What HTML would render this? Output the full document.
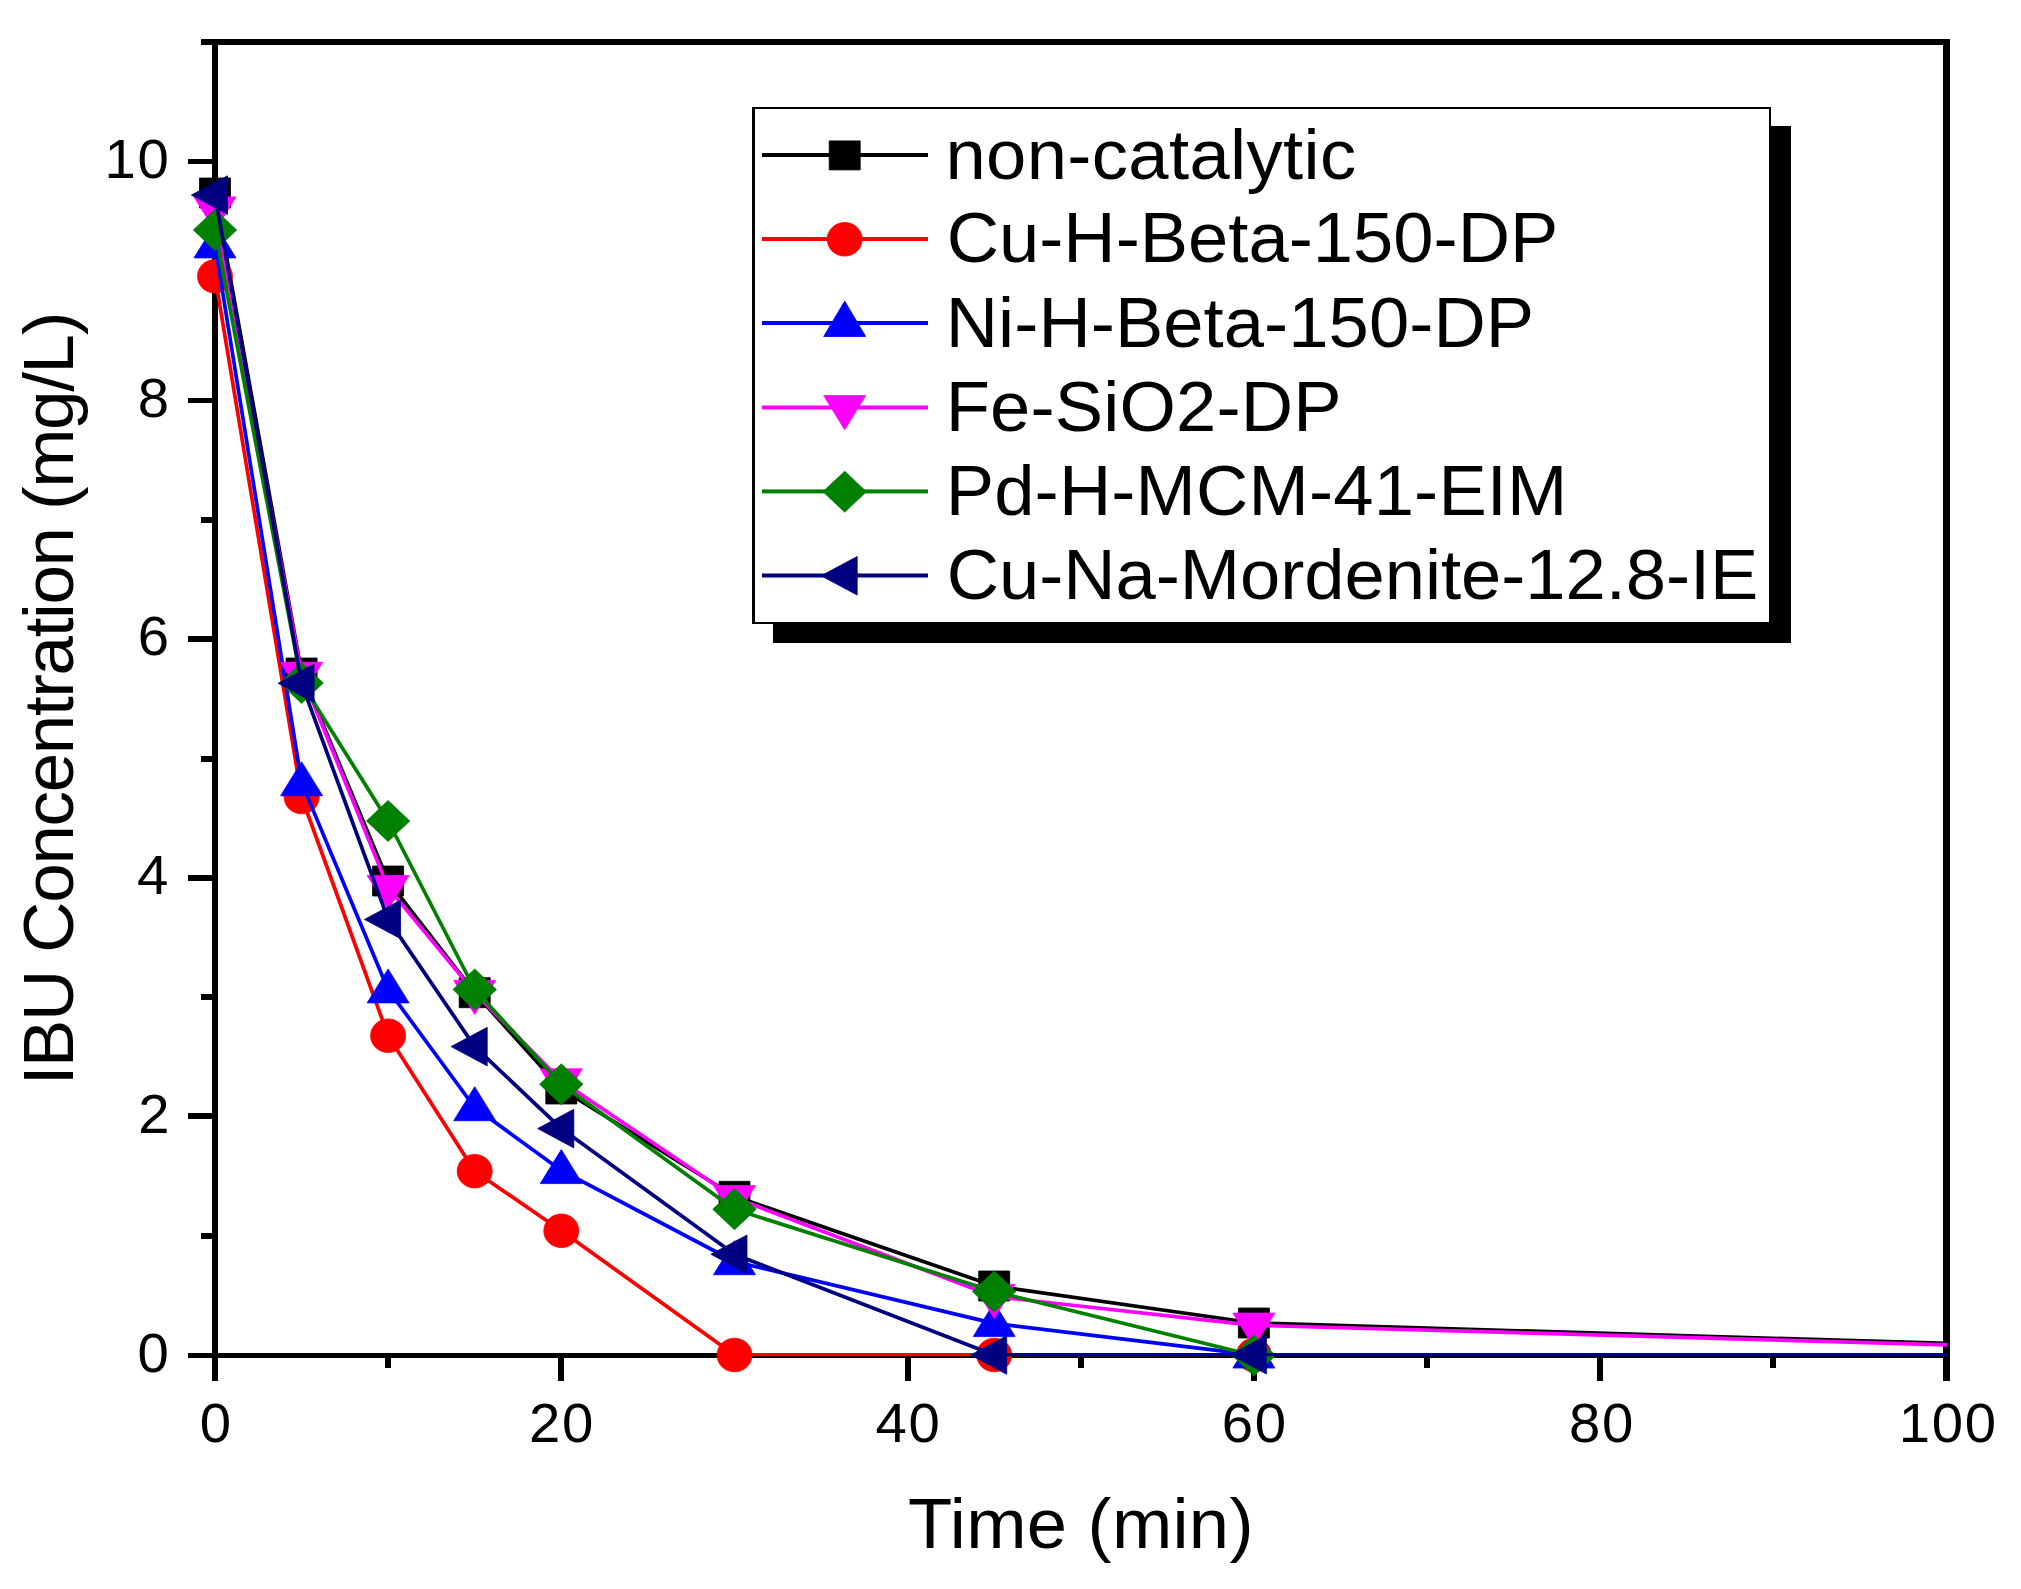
<!DOCTYPE html>
<html><head><meta charset="utf-8"><title>IBU Concentration vs Time</title>
<style>
html,body{margin:0;padding:0;background:#fff;}
body{width:2021px;height:1589px;overflow:hidden;}
svg{display:block;}
text{font-family:"Liberation Sans",sans-serif;fill:#000;}
</style></head><body>
<svg width="2021" height="1589" viewBox="0 0 2021 1589">
<rect x="0" y="0" width="2021" height="1589" fill="#ffffff"/>
<g fill="#000" shape-rendering="crispEdges">
<rect x="201" y="39" width="1749" height="6"/>
<rect x="212" y="39" width="6" height="1342"/>
<rect x="1943" y="39" width="7" height="1342"/>
<rect x="188" y="1353" width="1762" height="5"/>
<rect x="188" y="1353" width="26" height="5"/>
<rect x="201" y="1233" width="13" height="6"/>
<rect x="188" y="1113" width="26" height="6"/>
<rect x="201" y="994" width="13" height="6"/>
<rect x="188" y="875" width="26" height="6"/>
<rect x="201" y="756" width="13" height="6"/>
<rect x="188" y="636" width="26" height="6"/>
<rect x="201" y="517" width="13" height="6"/>
<rect x="188" y="398" width="26" height="5"/>
<rect x="201" y="278" width="13" height="6"/>
<rect x="188" y="159" width="26" height="5"/>
<rect x="385" y="1355" width="6" height="13"/>
<rect x="558" y="1355" width="6" height="26"/>
<rect x="731" y="1355" width="6" height="13"/>
<rect x="905" y="1355" width="6" height="26"/>
<rect x="1078" y="1355" width="6" height="13"/>
<rect x="1251" y="1355" width="6" height="26"/>
<rect x="1424" y="1355" width="6" height="13"/>
<rect x="1597" y="1355" width="6" height="26"/>
<rect x="1770" y="1355" width="6" height="13"/>
</g>
<g fill="#000000" stroke="#000000" stroke-width="0.8" stroke-linejoin="round">
<polyline fill="none" stroke-width="3.7" stroke-linejoin="round" points="215.0,193.0 301.6,673.0 388.1,881.0 474.7,992.7 561.3,1089.0 734.5,1196.3 994.2,1286.0 1253.9,1323.0 1947.0,1343.4"/>
<rect x="199.5" y="178.0" width="31" height="30"/>
<rect x="286.1" y="658.0" width="31" height="30"/>
<rect x="372.6" y="866.0" width="31" height="30"/>
<rect x="459.2" y="977.7" width="31" height="30"/>
<rect x="545.8" y="1074.0" width="31" height="30"/>
<rect x="719.0" y="1181.3" width="31" height="30"/>
<rect x="978.7" y="1271.0" width="31" height="30"/>
<rect x="1238.4" y="1308.0" width="31" height="30"/>
</g>
<g fill="#ff0000" stroke="#ff0000" stroke-width="0.8" stroke-linejoin="round">
<polyline fill="none" stroke-width="3.7" stroke-linejoin="round" points="215.0,276.3 301.6,797.0 388.1,1035.7 474.7,1171.2 561.3,1230.8 734.5,1355.0"/>
<line x1="734.5" y1="1354.6" x2="994.2" y2="1354.6" stroke-width="3.2"/>
<line x1="994.2" y1="1354.6" x2="1253.9" y2="1354.6" stroke-width="3.2"/>
<ellipse cx="215.0" cy="276.3" rx="17.5" ry="16.8"/>
<ellipse cx="301.6" cy="797.0" rx="17.5" ry="16.8"/>
<ellipse cx="388.1" cy="1035.7" rx="17.5" ry="16.8"/>
<ellipse cx="474.7" cy="1171.2" rx="17.5" ry="16.8"/>
<ellipse cx="561.3" cy="1230.8" rx="17.5" ry="16.8"/>
<ellipse cx="734.5" cy="1355.0" rx="17.5" ry="16.8"/>
<ellipse cx="994.2" cy="1355.0" rx="17.5" ry="16.8"/>
<ellipse cx="1253.9" cy="1355.0" rx="17.5" ry="16.8"/>
</g>
<g fill="#0000ff" stroke="#0000ff" stroke-width="0.8" stroke-linejoin="round">
<polyline fill="none" stroke-width="3.7" stroke-linejoin="round" points="215.0,244.7 301.6,782.6 388.1,989.7 474.7,1107.5 561.3,1170.4 734.5,1261.5 994.2,1323.4 1253.9,1354.8"/>
<polygon points="215.0,223.9 236.0,257.9 194.0,257.9"/>
<polygon points="301.6,761.8 322.6,795.8 280.6,795.8"/>
<polygon points="388.1,968.9 409.1,1002.9 367.1,1002.9"/>
<polygon points="474.7,1086.7 495.7,1120.7 453.7,1120.7"/>
<polygon points="561.3,1149.6 582.3,1183.6 540.3,1183.6"/>
<polygon points="734.5,1240.7 755.5,1274.7 713.5,1274.7"/>
<polygon points="994.2,1302.6 1015.2,1336.6 973.2,1336.6"/>
<polygon points="1253.9,1334.0 1274.9,1368.0 1232.9,1368.0"/>
</g>
<g fill="#ff00ff" stroke="#ff00ff" stroke-width="0.8" stroke-linejoin="round">
<polyline fill="none" stroke-width="3.7" stroke-linejoin="round" points="215.0,209.1 301.6,674.4 388.1,887.6 474.7,992.6 561.3,1081.0 734.5,1197.8 994.2,1296.6 1253.9,1325.3 1947.0,1344.8"/>
<polygon points="215.0,231.1 236.0,196.9 194.0,196.9"/>
<polygon points="301.6,696.4 322.6,662.2 280.6,662.2"/>
<polygon points="388.1,909.6 409.1,875.4 367.1,875.4"/>
<polygon points="474.7,1014.6 495.7,980.4 453.7,980.4"/>
<polygon points="561.3,1103.0 582.3,1068.8 540.3,1068.8"/>
<polygon points="734.5,1219.8 755.5,1185.6 713.5,1185.6"/>
<polygon points="994.2,1318.6 1015.2,1284.4 973.2,1284.4"/>
<polygon points="1253.9,1347.3 1274.9,1313.1 1232.9,1313.1"/>
</g>
<g fill="#008000" stroke="#008000" stroke-width="0.8" stroke-linejoin="round">
<polyline fill="none" stroke-width="3.7" stroke-linejoin="round" points="215.0,230.0 301.6,683.0 388.1,821.0 474.7,989.5 561.3,1084.3 734.5,1209.3 994.2,1291.5 1253.9,1355.5"/>
<polygon points="215.0,209.5 236.7,230.0 215.0,250.5 193.3,230.0"/>
<polygon points="301.6,662.5 323.3,683.0 301.6,703.5 279.9,683.0"/>
<polygon points="388.1,800.5 409.8,821.0 388.1,841.5 366.4,821.0"/>
<polygon points="474.7,969.0 496.4,989.5 474.7,1010.0 453.0,989.5"/>
<polygon points="561.3,1063.8 583.0,1084.3 561.3,1104.8 539.6,1084.3"/>
<polygon points="734.5,1188.8 756.2,1209.3 734.5,1229.8 712.8,1209.3"/>
<polygon points="994.2,1271.0 1015.9,1291.5 994.2,1312.0 972.5,1291.5"/>
<polygon points="1253.9,1335.0 1275.6,1355.5 1253.9,1376.0 1232.2,1355.5"/>
</g>
<g fill="#000080" stroke="#000080" stroke-width="0.8" stroke-linejoin="round">
<polyline fill="none" stroke-width="3.7" stroke-linejoin="round" points="215.0,195.1 301.6,683.3 388.1,919.4 474.7,1046.6 561.3,1128.6 734.5,1254.3 994.2,1355.0"/>
<line x1="994.2" y1="1354.6" x2="1253.9" y2="1354.6" stroke-width="3.2"/>
<line x1="1253.9" y1="1354.6" x2="1947.0" y2="1354.6" stroke-width="3.2"/>
<polygon points="191.4,195.1 227.5,175.8 227.5,214.4"/>
<polygon points="278.0,683.3 314.1,664.0 314.1,702.6"/>
<polygon points="364.5,919.4 400.6,900.1 400.6,938.7"/>
<polygon points="451.1,1046.6 487.2,1027.3 487.2,1065.9"/>
<polygon points="537.7,1128.6 573.8,1109.3 573.8,1147.9"/>
<polygon points="710.9,1254.3 747.0,1235.0 747.0,1273.6"/>
<polygon points="970.6,1355.0 1006.7,1335.7 1006.7,1374.3"/>
<polygon points="1230.3,1354.8 1266.4,1335.5 1266.4,1374.0"/>
</g>
<g fill="#000" font-family="'Liberation Sans', sans-serif">
<text transform="translate(199.86,1441.60) scale(1.0200,1)" font-size="55.20" letter-spacing="1.700">0</text>
<text transform="translate(529.03,1441.60) scale(1.0200,1)" font-size="55.20" letter-spacing="1.700">20</text>
<text transform="translate(875.41,1441.60) scale(1.0200,1)" font-size="55.20" letter-spacing="1.700">40</text>
<text transform="translate(1221.83,1441.60) scale(1.0200,1)" font-size="55.20" letter-spacing="1.700">60</text>
<text transform="translate(1569.04,1441.60) scale(1.0200,1)" font-size="55.20" letter-spacing="1.700">80</text>
<text transform="translate(1898.77,1441.60) scale(1.0200,1)" font-size="55.20" letter-spacing="1.700">100</text>
<text transform="translate(137.46,1371.80) scale(1.0200,1)" font-size="55.20" letter-spacing="1.700">0</text>
<text transform="translate(138.17,1133.02) scale(1.0200,1)" font-size="55.20" letter-spacing="1.700">2</text>
<text transform="translate(136.90,894.24) scale(1.0200,1)" font-size="55.20" letter-spacing="1.700">4</text>
<text transform="translate(137.74,655.46) scale(1.0200,1)" font-size="55.20" letter-spacing="1.700">6</text>
<text transform="translate(137.74,416.68) scale(1.0200,1)" font-size="55.20" letter-spacing="1.700">8</text>
<text transform="translate(104.48,177.90) scale(1.0200,1)" font-size="55.20" letter-spacing="1.700">10</text>
<text transform="translate(908.07,1547.70) scale(1.0200,1)" font-size="71.00" letter-spacing="0.238" >Time (min)</text>
<text transform="translate(73.3,1085.27) rotate(-90) scale(1.0000,1)" font-size="71.0" letter-spacing="-1.363">IBU Concentration (mg/L)</text>
</g>
<g shape-rendering="crispEdges">
<rect x="773" y="126" width="1018" height="517" fill="#000"/>
<rect x="752" y="107" width="1019" height="517" fill="#000"/>
<rect x="755" y="109" width="1014" height="513" fill="#fff"/>
</g>
<g fill="#000000" stroke="#000000" stroke-width="0.8" stroke-linejoin="round"><rect x="762" y="153.0" width="166" height="4" stroke="none"/>
<rect x="829.2" y="140.9" width="31" height="29"/>
</g>
<g fill="#000" font-family="'Liberation Sans', sans-serif">
<text transform="translate(945.41,178.70) scale(1.0200,1)" font-size="71.00" letter-spacing="0.347" >non-catalytic</text>
</g>
<g fill="#ff0000" stroke="#ff0000" stroke-width="0.8" stroke-linejoin="round"><rect x="762" y="237.0" width="166" height="4" stroke="none"/>
<ellipse cx="844.7" cy="239.3" rx="17.5" ry="16.8"/>
</g>
<g fill="#000" font-family="'Liberation Sans', sans-serif">
<text transform="translate(946.68,262.30) scale(1.0200,1)" font-size="71.00" letter-spacing="-0.003" >Cu-H-Beta-150-DP</text>
</g>
<g fill="#0000ff" stroke="#0000ff" stroke-width="0.8" stroke-linejoin="round"><rect x="762" y="321.0" width="166" height="4" stroke="none"/>
<polygon points="844.7,301.1 865.7,336.5 823.7,336.5"/>
</g>
<g fill="#000" font-family="'Liberation Sans', sans-serif">
<text transform="translate(945.73,347.10) scale(1.0200,1)" font-size="71.00" letter-spacing="0.058" >Ni-H-Beta-150-DP</text>
</g>
<g fill="#ff00ff" stroke="#ff00ff" stroke-width="0.8" stroke-linejoin="round"><rect x="762" y="405.5" width="166" height="4" stroke="none"/>
<polygon points="844.7,429.8 865.7,395.6 823.7,395.6"/>
</g>
<g fill="#000" font-family="'Liberation Sans', sans-serif">
<text transform="translate(945.73,431.00) scale(1.0200,1)" font-size="71.00" letter-spacing="0.158" >Fe-SiO2-DP</text>
</g>
<g fill="#008000" stroke="#008000" stroke-width="0.8" stroke-linejoin="round"><rect x="762" y="489.4" width="166" height="4" stroke="none"/>
<polygon points="844.7,471.2 866.4,491.7 844.7,512.2 823.0,491.7"/>
</g>
<g fill="#000" font-family="'Liberation Sans', sans-serif">
<text transform="translate(945.73,514.80) scale(1.0200,1)" font-size="71.00" letter-spacing="0.154" >Pd-H-MCM-41-EIM</text>
</g>
<g fill="#000080" stroke="#000080" stroke-width="0.8" stroke-linejoin="round"><rect x="762" y="573.5" width="166" height="4" stroke="none"/>
<polygon points="821.1,575.8 857.2,556.5 857.2,595.1"/>
</g>
<g fill="#000" font-family="'Liberation Sans', sans-serif">
<text transform="translate(946.68,599.20) scale(1.0200,1)" font-size="71.00" letter-spacing="-0.053" >Cu-Na-Mordenite-12.8-IE</text>
</g>
</svg>
</body></html>
